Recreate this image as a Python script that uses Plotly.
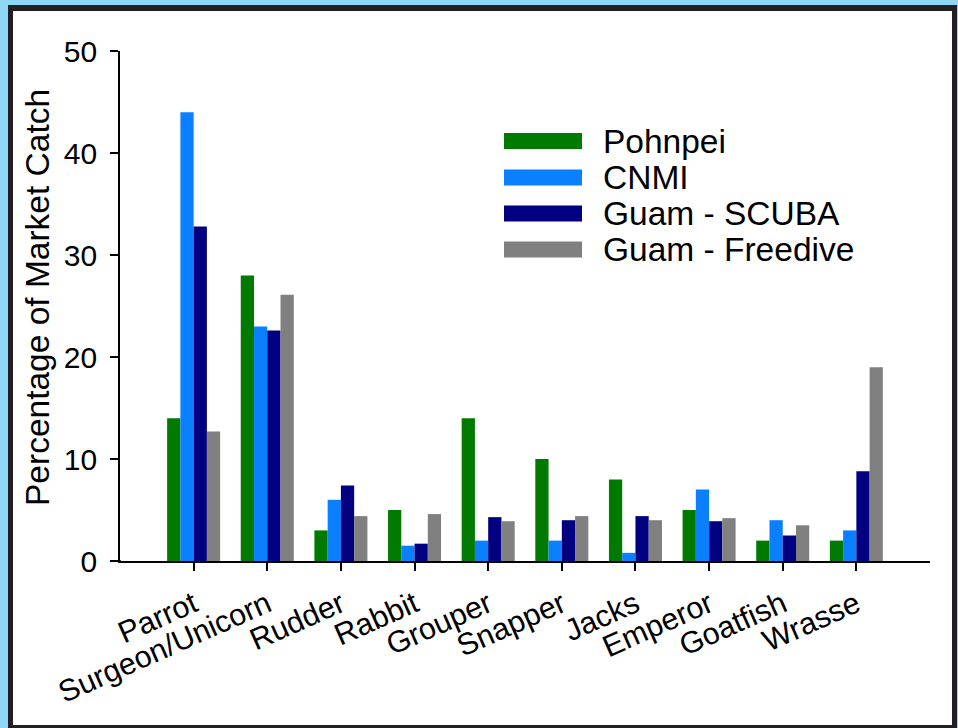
import plotly.graph_objects as go

categories = ["Parrot", "Surgeon/Unicorn", "Rudder", "Rabbit", "Grouper",
              "Snapper", "Jacks", "Emperor", "Goatfish", "Wrasse"]
pohnpei = [14.0, 28.0, 3.0, 5.0, 14.0, 10.0, 8.0, 5.0, 2.0, 2.0]
cnmi = [44.0, 23.0, 6.0, 1.5, 2.0, 2.0, 0.8, 7.0, 4.0, 3.0]
guam_scuba = [32.8, 22.6, 7.4, 1.7, 4.3, 4.0, 4.4, 3.9, 2.5, 8.8]
guam_freedive = [12.7, 26.1, 4.4, 4.6, 3.9, 4.4, 4.0, 4.2, 3.5, 19.0]
series_names = ["Pohnpei", "CNMI", "Guam - SCUBA", "Guam - Freedive"]
series_values = [pohnpei, cnmi, guam_scuba, guam_freedive]
series_colors = ["#007A00", "#0A7FFF", "#000080", "#808080"]
y_ticks = [0, 10, 20, 30, 40, 50]
y_title = "Percentage of Market Catch"

W, H = 958, 728
L, R, T, B = 120, 930, 51, 561  # plot area pixel bounds


def px(x):
    return (x - L) / (R - L)


def py(y):
    return (B - y) / (B - T)


fig = go.Figure()
for name, vals, col in zip(series_names, series_values, series_colors):
    fig.add_trace(go.Bar(x=list(range(len(categories))), y=vals, name=name,
                         marker=dict(color=col, line=dict(width=0)),
                         showlegend=False))

shapes = [
    dict(type="rect", xref="paper", yref="paper", x0=px(8), x1=px(957),
         y0=py(740), y1=py(5), fillcolor="#231F20", line=dict(width=0), layer="below"),
    dict(type="rect", xref="paper", yref="paper", x0=px(13), x1=px(952),
         y0=py(725), y1=py(11), fillcolor="white", line=dict(width=0), layer="below"),
    dict(type="line", xref="paper", yref="paper", x0=px(112), x1=px(121),
         y0=0, y1=0, line=dict(color="black", width=1.6)),
]
annotations = [
    dict(xref="paper", yref="paper", x=px(37), y=py(298), text=y_title, textangle=-90,
         showarrow=False, xanchor="center", yanchor="middle",
         font=dict(size=33.5, color="black")),
]
leg_rows = [141, 177.5, 213.5, 249.5]
for name, col, yc in zip(series_names, series_colors, leg_rows):
    shapes.append(dict(type="rect", xref="paper", yref="paper",
                       x0=px(504), x1=px(582), y0=py(yc + 8), y1=py(yc - 8),
                       fillcolor=col, line=dict(width=0)))
    annotations.append(dict(xref="paper", yref="paper", x=px(601), y=py(yc),
                            text=name, showarrow=False, xanchor="left", yanchor="middle",
                            font=dict(size=33.5, color="black")))

fig.update_layout(
    width=W, height=H,
    margin=dict(l=L, r=W - R, t=T, b=H - B, pad=0, autoexpand=False),
    paper_bgcolor="#8FD8F5",
    plot_bgcolor="rgba(0,0,0,0)",
    font=dict(family="Liberation Sans, Arial, sans-serif", color="black"),
    barmode="group", bargap=0.28, bargroupgap=0,
    shapes=shapes, annotations=annotations,
    xaxis=dict(range=[-1, 10], tickmode="array", tickvals=list(range(len(categories))),
               ticktext=categories, tickangle=-24, showline=True, linecolor="black",
               linewidth=1.6, ticks="outside", ticklen=8, tickwidth=1.6, tickcolor="black",
               showgrid=False, zeroline=False, tickfont=dict(size=30.5), automargin=False,
               ticklabelstandoff=4),
    yaxis=dict(range=[0, 50], tickvals=y_ticks, showline=True, linecolor="black",
               linewidth=1.6, ticks="outside", ticklen=8, tickwidth=1.6, tickcolor="black",
               showgrid=False, zeroline=False, tickfont=dict(size=30), automargin=False,
               ticklabelstandoff=7),
)

fig.write_html(
    "out.html",
    config={"displayModeBar": False},
    post_script="document.body.style.margin='0';document.body.style.background='#8FD8F5';"
                "document.body.style.overflow='hidden';",
)
